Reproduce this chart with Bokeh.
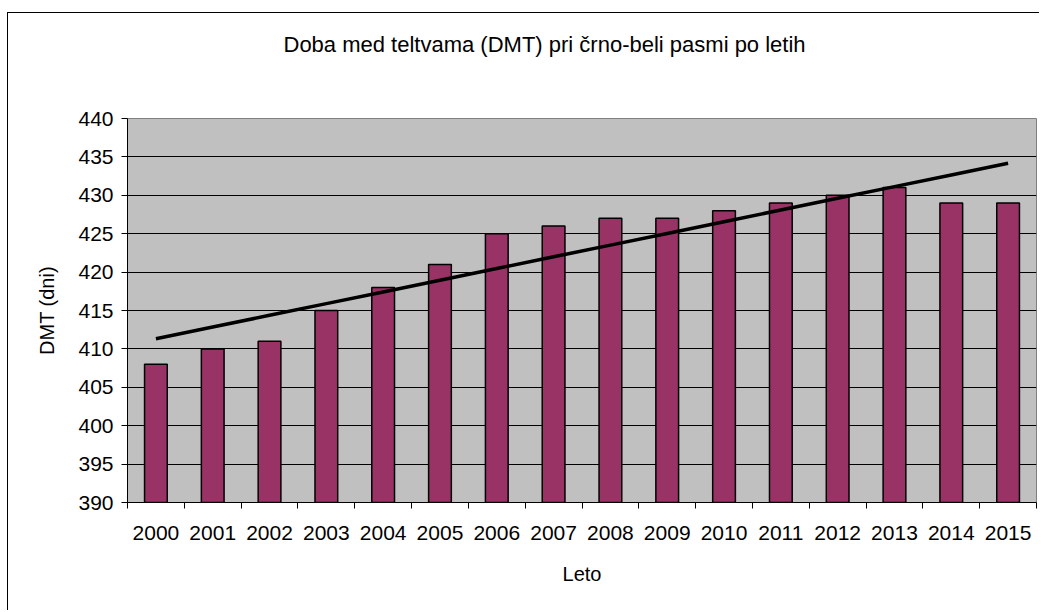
import numpy as np
from bokeh.plotting import figure
from bokeh.models import (Range1d, LinearAxis, FixedTicker, ColumnDataSource, Title)
from bokeh.embed import file_html
from bokeh.resources import INLINE

years = [str(y) for y in range(2000, 2016)]
dmt = [408, 410, 411, 415, 418, 421, 425, 426, 427, 427, 428, 429, 430, 431, 429, 429]
y_ticks = list(range(390, 441, 5))

title_text = "Doba med teltvama (DMT) pri črno-beli pasmi po letih"
x_label = "Leto"
y_label = "DMT (dni)"

idx = np.arange(len(dmt))
# linear trend (least squares over category index)
slope, intercept = np.polyfit(idx, np.array(dmt, dtype=float), 1)
trend = list(intercept + slope * idx)

FONT = "Liberation Sans"
n = len(years)

p = figure(width=1032, height=598, x_range=Range1d(-0.5, n - 0.5),
           y_range=Range1d(390, 440), output_backend="svg", toolbar_location=None,
           x_axis_location=None, y_axis_location=None,
           min_border_left=119, min_border_top=105, min_border_right=4, min_border_bottom=109,
           background_fill_color="#C0C0C0", border_fill_color="white",
           outline_line_color="#808080", outline_line_width=1,
           styles={"border-left": "1px solid black", "border-top": "1px solid black",
                   "margin-left": "7px", "margin-top": "12px"})
p.title.text = ""

src = ColumnDataSource(dict(x=idx, top=dmt, trend=trend))
p.vbar(x="x", top="top", bottom=390, width=0.4, source=src,
       fill_color="#993366", line_color="black", line_width=1.5)
p.line(x="x", y="trend", source=src, line_color="black", line_width=3.5)

# title: a spacer (nearest the frame) followed by the real title above it
spacer = Title(text=" ", text_font_size="1px", standoff=59)
p.add_layout(spacer, "above")
main_title = Title(text=title_text, align="left", offset=156, vertical_align="bottom",
                   text_font=FONT, text_font_size="22px", text_font_style="normal",
                   text_color="black", standoff=0)
p.add_layout(main_title, "above")

# y axis
yax = LinearAxis(ticker=FixedTicker(ticks=y_ticks))
yax.axis_line_color = "black"
yax.major_tick_out = 6
yax.major_tick_in = 0
yax.minor_tick_line_color = None
yax.major_label_standoff = 8
yax.major_label_text_font = FONT
yax.major_label_text_font_size = "21px"
yax.major_label_text_color = "black"
yax.axis_label = y_label
yax.axis_label_text_font = FONT
yax.axis_label_text_font_size = "20px"
yax.axis_label_text_font_style = "normal"
yax.axis_label_text_color = "black"
yax.axis_label_standoff = 17
p.add_layout(yax, "left")

# x axis: labels at category centres, tick marks between categories (Excel style)
boundaries = [float(i) - 0.5 for i in range(n + 1)]
xax = LinearAxis(ticker=FixedTicker(ticks=[int(i) for i in idx], minor_ticks=boundaries))
xax.major_label_overrides = {int(i): y for i, y in zip(idx, years)}
xax.axis_line_color = "black"
xax.major_tick_line_color = None
xax.major_tick_out = 0
xax.major_tick_in = 0
xax.minor_tick_line_color = "black"
xax.minor_tick_out = 6
xax.minor_tick_in = 0
xax.major_label_standoff = 17
xax.major_label_text_font = FONT
xax.major_label_text_font_size = "21px"
xax.major_label_text_color = "black"
xax.axis_label = x_label
xax.axis_label_text_font = FONT
xax.axis_label_text_font_size = "20px"
xax.axis_label_text_font_style = "normal"
xax.axis_label_text_color = "black"
xax.axis_label_standoff = 20
p.add_layout(xax, "below")

p.ygrid.grid_line_color = "black"
p.ygrid.grid_line_width = 1
p.ygrid.ticker = FixedTicker(ticks=y_ticks)
p.xgrid.grid_line_color = None

open("out.html", "w").write(file_html(p, INLINE))
